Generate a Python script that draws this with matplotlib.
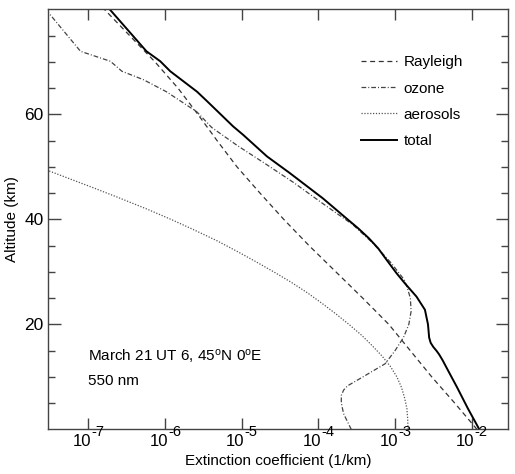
import numpy as np
import matplotlib
matplotlib.use('Agg')
import matplotlib.pyplot as plt
import matplotlib.transforms as mtrans
from matplotlib.ticker import FixedLocator, NullFormatter

plt.rcParams['font.family'] = ['Liberation Sans', 'DejaVu Sans']
plt.rcParams['mathtext.fontset'] = 'custom'
plt.rcParams['mathtext.rm'] = 'Liberation Sans'
plt.rcParams['mathtext.it'] = 'Liberation Sans:italic'
plt.rcParams['mathtext.bf'] = 'Liberation Sans:bold'

# extinction profiles, log10(1/km) vs altitude (km)
alt_rayleigh = [0, 5, 10, 15, 20, 25, 30, 35, 40, 45, 50, 55, 60, 65, 70, 75, 80]
log_rayleigh = [-1.93, -2.22, -2.52, -2.80, -3.08, -3.42, -3.77, -4.12, -4.45,
                -4.76, -5.06, -5.32, -5.57, -5.83, -6.13, -6.46, -6.79]

alt_ozone = [0, 1.5, 3, 5, 6.5, 7.5, 8.3, 10, 12.5, 15, 17.5, 20, 22.5, 25, 27,
             28.5, 31.7, 35.5, 39, 43, 47, 50.4, 54, 57.5, 60.5, 64.3, 66.6,
             68.2, 70.1, 72.0, 79.4, 80]
log_ozone = [-3.57, -3.62, -3.67, -3.70, -3.70, -3.67, -3.62, -3.42, -3.13,
             -3.00, -2.89, -2.82, -2.79, -2.80, -2.84, -2.88, -3.05, -3.29,
             -3.55, -3.94, -4.32, -4.67, -5.05, -5.39, -5.585, -5.98, -6.28,
             -6.56, -6.71, -7.10, -7.52, -7.56]

alt_aerosol = [0, 2, 4, 6, 8, 10, 12, 14, 16, 18, 20, 22, 24, 26, 28, 30, 32,
               34, 36, 38, 40, 42, 44, 46, 48, 50]
log_aerosol = [-2.83, -2.835, -2.845, -2.875, -2.915, -2.975, -3.06, -3.17,
               -3.30, -3.44, -3.60, -3.77, -3.95, -4.14, -4.35, -4.58, -4.82,
               -5.07, -5.33, -5.62, -5.92, -6.24, -6.58, -6.93, -7.29, -7.65]

alt_total = [0, 4, 8, 11, 13.2, 14.3, 15.0, 15.7, 16.5, 17.5, 20, 22.8, 25.3,
             27.8, 29.75, 32.5, 34.5, 36.4, 38.3, 39.9, 44, 48.8, 52, 56.1,
             57.7, 62.5, 64.3, 68.2, 70.1, 72.0, 80]
log_total = [-1.90, -2.05, -2.19, -2.30, -2.38, -2.425, -2.46, -2.50, -2.535,
             -2.555, -2.57, -2.61, -2.72, -2.87, -2.98, -3.12, -3.22, -3.34,
             -3.48, -3.61, -3.94, -4.37, -4.67, -4.98, -5.11, -5.45, -5.58,
             -5.93, -6.06, -6.24, -6.72]

decades = [-7, -6, -5, -4, -3, -2]

fig = plt.figure(figsize=(5.15, 4.74), dpi=100)
ax = fig.add_axes([0.0932, 0.0939, 0.8932, 0.8865])

lw = 0.9
ax.plot(10 ** np.array(log_rayleigh), alt_rayleigh, color='#333333', lw=lw,
        dashes=(4, 2.9), label='Rayleigh')
ax.plot(10 ** np.array(log_ozone), alt_ozone, color='#444444', lw=lw,
        dashes=(3.8, 1.6, 0.8, 1.6), label='ozone')
ax.plot(10 ** np.array(log_aerosol), alt_aerosol, color='#555555', lw=lw,
        dashes=(1, 1.3), label='aerosols')
ax.plot(10 ** np.array(log_total), alt_total, color='black', lw=1.4,
        label='total')

ax.set_xscale('log')
ax.set_xlim(10 ** -7.524, 10 ** -1.527)
ax.set_ylim(0, 80)

ax.xaxis.set_major_locator(FixedLocator([10.0 ** d for d in decades]))
ax.xaxis.set_minor_locator(FixedLocator([]))
ax.xaxis.set_major_formatter(NullFormatter())
ax.set_yticks([20, 40, 60])
ax.set_yticks(np.arange(5, 80, 5), minor=True)

# tick labels 10^n drawn by hand so the exponent stays large
xtr = ax.get_xaxis_transform()
for d in decades:
    base_tr = mtrans.offset_copy(xtr, fig=fig, x=3, y=-17, units='dots')
    exp_tr = mtrans.offset_copy(xtr, fig=fig, x=3, y=-7, units='dots')
    ax.text(10.0 ** d, 0, '10', transform=base_tr, ha='right',
            va='baseline', fontsize=12)
    ax.text(10.0 ** d, 0, str(d), transform=exp_tr, ha='left',
            va='baseline', fontsize=10.5)

for s in ax.spines.values():
    s.set_color('#444444')
    s.set_linewidth(1.0)
ax.tick_params(which='major', direction='in', length=9, width=1.0,
               color='#444444', top=True, right=True, labelsize=12.5,
               pad=3)
ax.tick_params(which='minor', direction='in', length=5, width=1.0,
               color='#444444', top=False, right=True, left=True)
ax.tick_params(axis='x', which='major', length=8)

ax.set_xlabel('Extinction coefficient (1/km)', fontsize=11, labelpad=15)
ax.set_ylabel('Altitude (km)', fontsize=11, labelpad=4)

ax.text(0.087, 0.165, r'March 21 UT 6, 45$\mathregular{^o}$N 0$\mathregular{^o}$E',
        transform=ax.transAxes, fontsize=11)
ax.text(0.087, 0.105, '550 nm', transform=ax.transAxes, fontsize=11)

ax.legend(loc='upper left', bbox_to_anchor=(0.668, 0.905), frameon=False,
          fontsize=11, handlelength=2.3, handletextpad=0.45,
          labelspacing=0.8, borderaxespad=0)

fig.savefig('out.png', dpi=100)
